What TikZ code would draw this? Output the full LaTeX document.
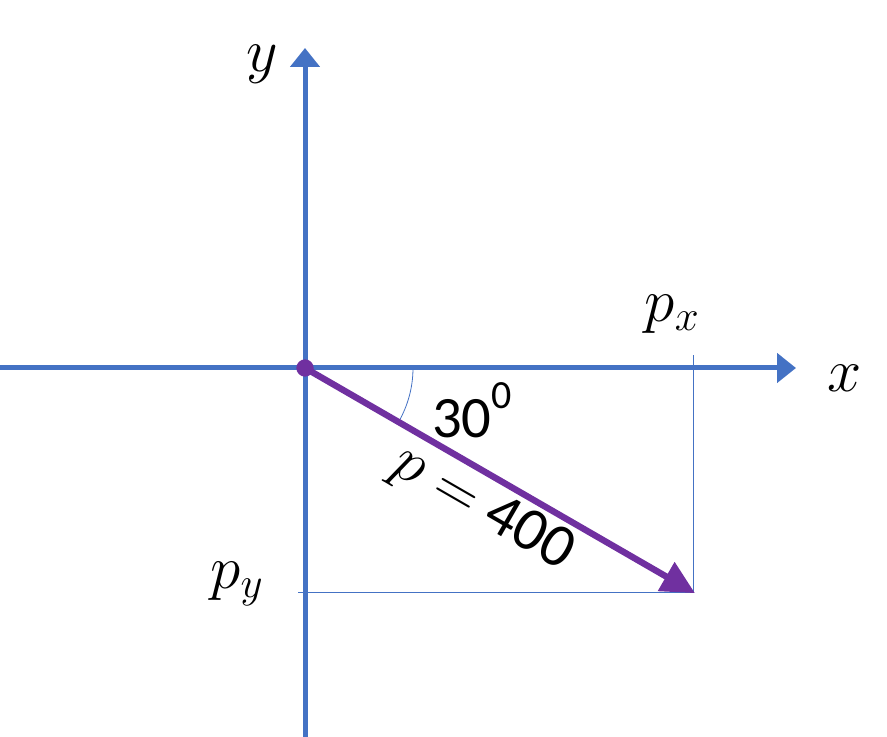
\RequirePackage{fix-cm}
\documentclass[tikz,border=0pt]{standalone}
\usepackage{fontspec}
\newfontfamily\digitfont{Carlito}
\usetikzlibrary{arrows.meta, positioning, calc}
\definecolor{axisblue}{HTML}{4472C4}
\definecolor{vecpurple}{HTML}{7030A0}
\tikzset{
  axis/.style={axisblue, line width=3.75pt, -{Triangle[length=14.25pt, width=21.75pt]}},
  vector/.style={vecpurple, line width=4.8pt, -{Triangle[length=25pt, width=24pt]}},
  helper/.style={axisblue, line width=0.6pt},
  biglabel/.style={font=\fontsize{46}{48}\selectfont, inner sep=0pt},
  numlabel/.style={font=\digitfont\fontsize{44}{46}\selectfont, inner sep=0pt}
}
\begin{document}
\begin{tikzpicture}[x=0.75pt, y=0.75pt]
    % Marco del dibujo
    \useasboundingbox (-305,-369) rectangle (582,368);

    % Origen y punta del vector
    \coordinate (O) at (0,0);
    \coordinate (P) at (-30:449);
    \coordinate (Xs) at (-305,0);
    \coordinate (Xe) at (491,0);
    \coordinate (Ys) at (0,-369);
    \coordinate (Ye) at (0,320);

    % Ejes
    \draw[axis] (Xs) -- (Xe);
    \draw[axis] (Ys) -- (Ye);

    % Proyecciones
    \coordinate (Ptop) at ($(P |- O)+(0,13)$);
    \coordinate (Pleft) at ($(O |- P)+(-7,0)$);
    \draw[helper] (P) -- (Ptop);
    \draw[helper] (P) -- (Pleft);

    % Arco del angulo
    \draw[helper] (108,0) arc[start angle=0, end angle=-30, radius=108];

    % Vector p
    \draw[vector, shorten >=-1pt] (O) -- (P);
    \fill[vecpurple] (O) circle (6.5pt);

    % Etiquetas
    \node[biglabel] (ylab) at (-43,304) {$y$};
    \node[biglabel] (xlab) at (540,-10) {$x$};
    \node[biglabel] (pxlab) at (367,54) {$p_x$};
    \node[biglabel] (pylab) at (-68,-216) {$p_y$};
    \node[numlabel] (anglab) at (167,-42) {30\raisebox{0.5em}{\fontsize{30}{32}\selectfont 0}};
    \node[numlabel, rotate=-30] (plab) at (177,-141) {\fontsize{46}{48}\selectfont$p =$ 400};
\end{tikzpicture}
\end{document}
